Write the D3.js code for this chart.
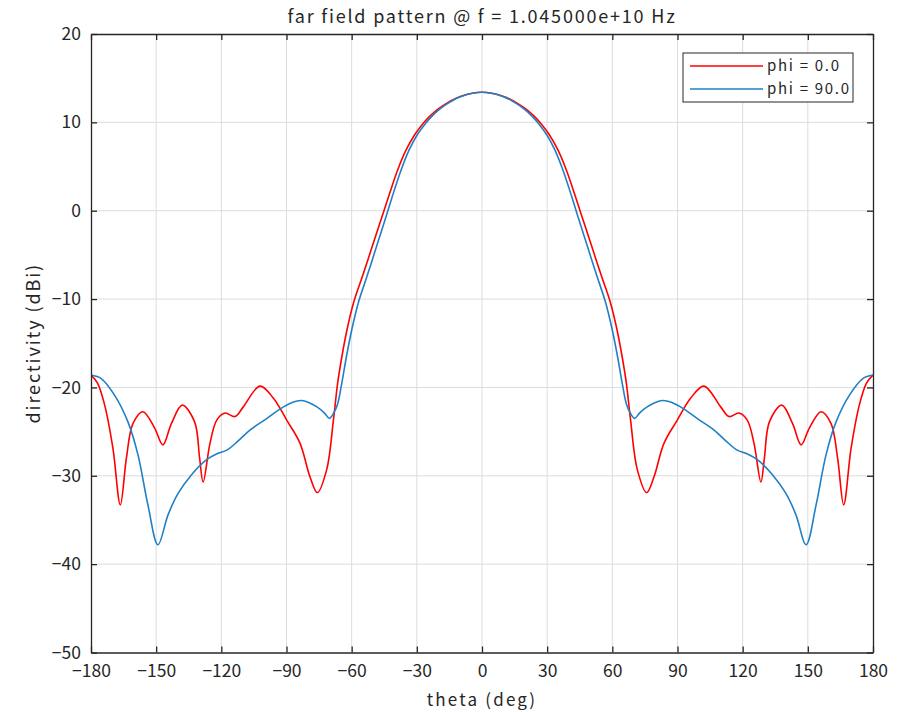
<!DOCTYPE html>
<html>
<head>
<meta charset="utf-8">
<script src="https://cdn.jsdelivr.net/npm/d3@7"></script>
<style>
  body { margin: 0; background: #fff; }
  svg text { font-family: 'Noto Sans CJK JP', 'Noto Sans', sans-serif; fill: #262626; }
</style>
</head>
<body>
<div id="chart"></div>
<script>
// theta (deg) / directivity (dBi)
const thetaPhi0 = [-180, -177, -173.7, -169.9, -166.5, -163.7, -160.7, -156.1, -150.7, -146.9, -143, -138, -132.3, -130, -128.4, -125.2, -122.1, -118.3, -113.7, -109.9, -102.2, -96.1, -89.9, -83.8, -79.2, -75.8, -71.5, -68.4, -66.5, -64.5, -62, -59, -55, -51, -47, -43, -39, -35, -31, -27, -24, -20, -15, -10, 0,
  10, 15, 20, 24, 27, 31, 35, 39, 43, 47, 51, 55, 59, 62, 64.5, 66.5, 68.4, 71.5, 75.8, 79.2, 83.8, 89.9, 96.1, 102.2, 109.9, 113.7, 118.3, 122.1, 125.2, 128.4, 130, 132.3, 138, 143, 146.9, 150.7, 156.1, 160.7, 163.7, 166.5, 169.9, 173.7, 177, 180];
const dirPhi0 = [-18.6, -19.5, -22.0, -26.9, -33.3, -28.0, -24.1, -22.75, -24.6, -26.5, -24.1, -22.0, -23.9, -28.0, -30.7, -26.3, -23.7, -22.9, -23.3, -22.2, -19.85, -21.2, -23.7, -26.3, -30.1, -31.9, -29.3, -23.7, -19.6, -16.5, -13.3, -10.3, -7.4, -4.4, -1.4, 1.6, 4.5, 6.85, 8.6, 9.9, 10.7, 11.55, 12.35, 12.93, 13.4,
  12.93, 12.35, 11.55, 10.7, 9.9, 8.6, 6.85, 4.5, 1.6, -1.4, -4.4, -7.4, -10.3, -13.3, -16.5, -19.6, -23.7, -29.3, -31.9, -30.1, -26.3, -23.7, -21.2, -19.85, -22.2, -23.3, -22.9, -23.7, -26.3, -30.7, -28.0, -23.9, -22.0, -24.1, -26.5, -24.6, -22.75, -24.1, -28.0, -33.3, -26.9, -22.0, -19.5, -18.6];

const thetaPhi90 = [-180, -175.3, -169.1, -163, -158.4, -153.8, -149.2, -144.5, -139.9, -133.8, -126.9, -122, -117.5, -112, -106.7, -99, -91.4, -86, -82.2, -76, -72.5, -70.3, -68.5, -66.5, -64.6, -62.4, -59.8, -56.8, -52.9, -49, -45.1, -41.3, -37.4, -33.6, -29.8, -25.9, -23, -19.2, -14.4, -9.6, 0,
  9.6, 14.4, 19.2, 23, 25.9, 29.8, 33.6, 37.4, 41.3, 45.1, 49, 52.9, 56.8, 59.8, 62.4, 64.6, 66.5, 68.5, 70.3, 72.5, 76, 82.2, 86, 91.4, 99, 106.7, 112, 117.5, 122, 126.9, 133.8, 139.9, 144.5, 149.2, 153.8, 158.4, 163, 169.1, 175.3, 180];
const dirPhi90 = [-18.6, -19.0, -20.9, -23.9, -27.6, -33.3, -37.8, -34.4, -32.0, -29.9, -28.2, -27.5, -27.1, -26.0, -24.8, -23.5, -22.2, -21.6, -21.5, -22.2, -22.9, -23.5, -23.0, -21.9, -19.6, -16.5, -13.3, -10.3, -7.4, -4.4, -1.4, 1.6, 4.5, 6.85, 8.6, 9.9, 10.7, 11.55, 12.35, 12.93, 13.4,
  12.93, 12.35, 11.55, 10.7, 9.9, 8.6, 6.85, 4.5, 1.6, -1.4, -4.4, -7.4, -10.3, -13.3, -16.5, -19.6, -21.9, -23.0, -23.5, -22.9, -22.2, -21.5, -21.6, -22.2, -23.5, -24.8, -26.0, -27.1, -27.5, -28.2, -29.9, -32.0, -34.4, -37.8, -33.3, -27.6, -23.9, -20.9, -19.0, -18.6];

const xTicks = [-180, -150, -120, -90, -60, -30, 0, 30, 60, 90, 120, 150, 180];
const yTicks = [-50, -40, -30, -20, -10, 0, 10, 20];
const seriesNames = ['phi = 0.0', 'phi = 90.0'];
const seriesColors = ['#ff0000', '#1f80c6'];

const width = 910;
const height = 712;
const area = { left: 91, right: 873, top: 34, bottom: 652.5 };

const x = d3.scaleLinear().domain([-180, 180]).range([area.left, area.right]);
const y = d3.scaleLinear().domain([-50, 20]).range([area.bottom, area.top]);

const svg = d3.select('#chart').append('svg')
  .attr('width', width)
  .attr('height', height);

// grid
const grid = svg.append('g').attr('class', 'grid');
grid.selectAll('line.gx').data(xTicks.slice(1, -1)).join('line')
  .attr('x1', d => x(d)).attr('x2', d => x(d))
  .attr('y1', area.top).attr('y2', area.bottom)
  .attr('stroke', '#dcdcdc').attr('stroke-width', 1);
grid.selectAll('line.gy').data(yTicks.slice(1, -1)).join('line')
  .attr('class', 'gy')
  .attr('x1', area.left).attr('x2', area.right)
  .attr('y1', d => y(d)).attr('y2', d => y(d))
  .attr('stroke', '#dcdcdc').attr('stroke-width', 1);

// curves
const line = d3.line()
  .x(d => x(d[0]))
  .y(d => y(d[1]))
  .curve(d3.curveCatmullRom.alpha(0.5));

const series = [
  d3.zip(thetaPhi0, dirPhi0),
  d3.zip(thetaPhi90, dirPhi90)
];

svg.append('defs').append('clipPath').attr('id', 'clip')
  .append('rect')
  .attr('x', area.left).attr('y', area.top)
  .attr('width', area.right - area.left).attr('height', area.bottom - area.top);

svg.append('g').attr('clip-path', 'url(#clip)')
  .selectAll('path').data(series).join('path')
  .attr('d', line)
  .attr('fill', 'none')
  .attr('stroke', (d, i) => seriesColors[i])
  .attr('stroke-width', 1.6);

// axes (box with inward ticks)
const axisColor = '#262626';
const tickLen = 6;

const xAxis = svg.append('g').attr('transform', `translate(0, ${area.bottom})`)
  .call(d3.axisBottom(x).tickValues(xTicks).tickSize(-tickLen).tickPadding(12).tickSizeOuter(0));
const xAxisTop = svg.append('g').attr('transform', `translate(0, ${area.top})`)
  .call(d3.axisTop(x).tickValues(xTicks).tickSize(-tickLen).tickFormat('').tickSizeOuter(0));
const yAxis = svg.append('g').attr('transform', `translate(${area.left}, 0)`)
  .call(d3.axisLeft(y).tickValues(yTicks).tickSize(-tickLen).tickPadding(10).tickSizeOuter(0));
const yAxisRight = svg.append('g').attr('transform', `translate(${area.right}, 0)`)
  .call(d3.axisRight(y).tickValues(yTicks).tickSize(-tickLen).tickFormat('').tickSizeOuter(0));

[xAxis, xAxisTop, yAxis, yAxisRight].forEach(g => {
  g.select('.domain').attr('stroke', axisColor).attr('stroke-width', 1.3);
  g.selectAll('.tick line').attr('stroke', axisColor).attr('stroke-width', 1.3);
  g.selectAll('.tick text')
    .attr('font-family', "'Noto Sans CJK JP', sans-serif")
    .attr('font-size', 17.5)
    .attr('fill', axisColor);
});
xAxis.selectAll('.tick text').text(d => d < 0 ? '\u2212' + Math.abs(d) : d);
yAxis.selectAll('.tick text').text(d => d < 0 ? '\u2212' + Math.abs(d) : d);

// labels
svg.append('text')
  .attr('x', (area.left + area.right) / 2)
  .attr('y', 23)
  .attr('text-anchor', 'middle')
  .attr('font-size', 18)
  .attr('letter-spacing', 1.8)
  .text('far field pattern @ f = 1.045000e+10 Hz');

svg.append('text')
  .attr('x', (area.left + area.right) / 2)
  .attr('y', 706)
  .attr('text-anchor', 'middle')
  .attr('font-size', 17)
  .attr('letter-spacing', 2.2)
  .text('theta (deg)');

svg.append('text')
  .attr('transform', `translate(40, ${(area.top + area.bottom) / 2}) rotate(-90)`)
  .attr('text-anchor', 'middle')
  .attr('font-size', 18)
  .attr('letter-spacing', 1.9)
  .text('directivity (dBi)');

// legend
const legend = svg.append('g').attr('class', 'legend');
legend.append('rect')
  .attr('x', 683).attr('y', 53)
  .attr('width', 170).attr('height', 49)
  .attr('fill', '#fff')
  .attr('stroke', axisColor).attr('stroke-width', 1);

const items = legend.selectAll('g.item').data(seriesNames).join('g')
  .attr('class', 'item')
  .attr('transform', (d, i) => `translate(0, ${66 + i * 23})`);
items.append('line')
  .attr('x1', 690).attr('x2', 763)
  .attr('stroke', (d, i) => seriesColors[i])
  .attr('stroke-width', 1.6);
items.append('text')
  .attr('x', 767).attr('y', 5)
  .attr('font-size', 15)
  .attr('letter-spacing', 1.7)
  .text(d => d);
</script>
</body>
</html>
